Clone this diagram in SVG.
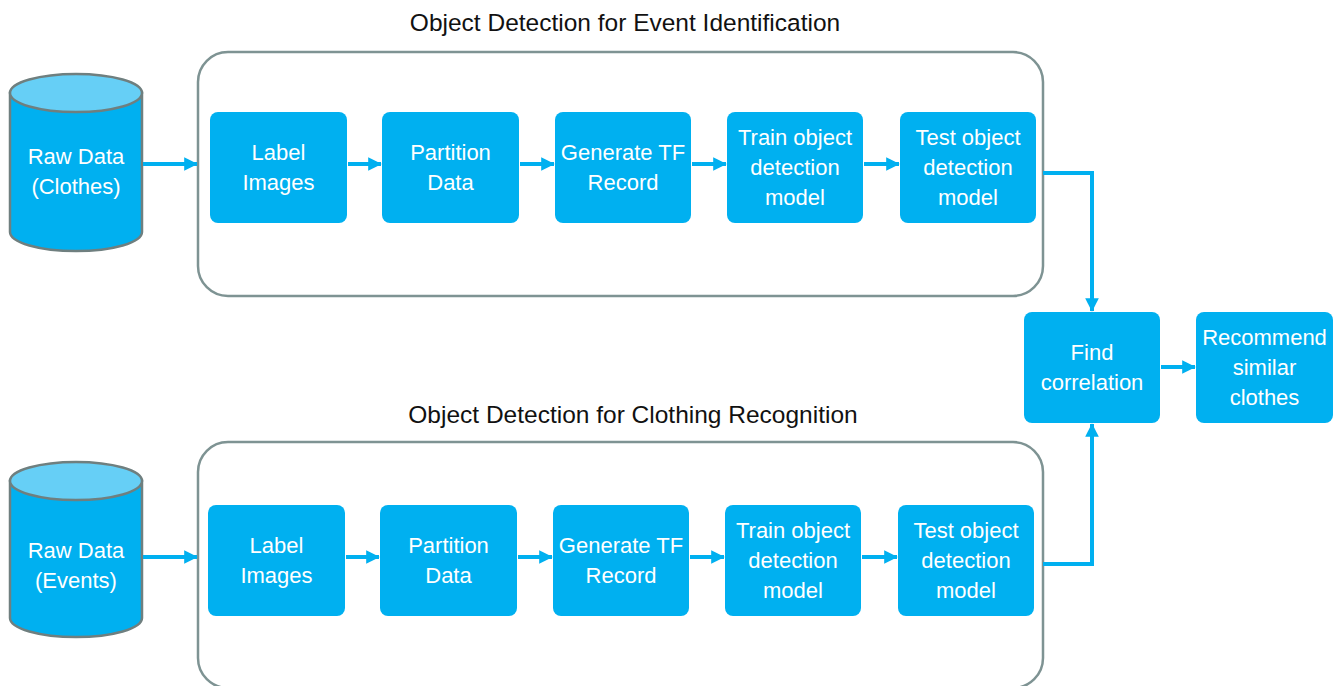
<svg xmlns="http://www.w3.org/2000/svg" width="1336" height="686" viewBox="0 0 1336 686">
<defs>
<style>
.box{fill:#00B0F0;}
.cont{fill:none;stroke:#7E9393;stroke-width:2.5;}
.cyl{fill:#00B0F0;stroke:#6F7F7F;stroke-width:2.5;}
.cyltop{fill:#66CFF6;stroke:#6F7F7F;stroke-width:2.5;}
.t{font-family:"Liberation Sans",Arial,sans-serif;font-size:22px;fill:#FFFFFF;text-anchor:middle;}
.title{font-family:"Liberation Sans",Arial,sans-serif;font-size:24.5px;fill:#111111;text-anchor:middle;}
.c{fill:none;stroke:#00B0F0;stroke-width:4;}
</style>
<marker id="ah" markerWidth="4" markerHeight="4" refX="3.2" refY="2" orient="auto" markerUnits="strokeWidth">
<path d="M0,0.3 L3.4,2 L0,3.7 Z" fill="#00B0F0"/>
</marker>
</defs>
<rect width="1336" height="686" fill="#FFFFFF"/>

<g id="title-top"><text class="title" x="625" y="31">Object Detection for Event Identification</text></g>
<g id="title-bottom"><text class="title" x="633" y="423">Object Detection for Clothing Recognition</text></g>

<g id="container-top"><rect class="cont" x="198" y="52" width="845" height="244" rx="30"/></g>
<g id="container-bottom"><rect class="cont" x="198" y="442" width="845" height="246" rx="30"/></g>

<g id="raw-clothes">
<path class="cyl" d="M10,93 L10,232 A66,19 0 0 0 142,232 L142,93 Z"/>
<ellipse class="cyltop" cx="76" cy="93" rx="66" ry="19"/>
<text class="t" x="76" y="164">Raw Data</text>
<text class="t" x="76" y="194">(Clothes)</text>
</g>
<g id="raw-events">
<path class="cyl" d="M10,481 L10,618 A66,19 0 0 0 142,618 L142,481 Z"/>
<ellipse class="cyltop" cx="76" cy="481" rx="66" ry="19"/>
<text class="t" x="76" y="558">Raw Data</text>
<text class="t" x="76" y="588">(Events)</text>
</g>

<g id="top-label"><rect class="box" x="210" y="112" width="137" height="111" rx="8"/>
<text class="t" x="278.5" y="160">Label</text><text class="t" x="278.5" y="190">Images</text></g>
<g id="top-partition"><rect class="box" x="382" y="112" width="137" height="111" rx="8"/>
<text class="t" x="450.5" y="160">Partition</text><text class="t" x="450.5" y="190">Data</text></g>
<g id="top-generate"><rect class="box" x="555" y="112" width="136" height="111" rx="8"/>
<text class="t" x="623" y="160">Generate TF</text><text class="t" x="623" y="190">Record</text></g>
<g id="top-train"><rect class="box" x="727" y="112" width="136" height="111" rx="8"/>
<text class="t" x="795" y="145">Train object</text><text class="t" x="795" y="175">detection</text><text class="t" x="795" y="205">model</text></g>
<g id="top-test"><rect class="box" x="900" y="112" width="136" height="111" rx="8"/>
<text class="t" x="968" y="145">Test object</text><text class="t" x="968" y="175">detection</text><text class="t" x="968" y="205">model</text></g>

<g id="bot-label"><rect class="box" x="208" y="505" width="137" height="111" rx="8"/>
<text class="t" x="276.5" y="553">Label</text><text class="t" x="276.5" y="583">Images</text></g>
<g id="bot-partition"><rect class="box" x="380" y="505" width="137" height="111" rx="8"/>
<text class="t" x="448.5" y="553">Partition</text><text class="t" x="448.5" y="583">Data</text></g>
<g id="bot-generate"><rect class="box" x="553" y="505" width="136" height="111" rx="8"/>
<text class="t" x="621" y="553">Generate TF</text><text class="t" x="621" y="583">Record</text></g>
<g id="bot-train"><rect class="box" x="725" y="505" width="136" height="111" rx="8"/>
<text class="t" x="793" y="538">Train object</text><text class="t" x="793" y="568">detection</text><text class="t" x="793" y="598">model</text></g>
<g id="bot-test"><rect class="box" x="898" y="505" width="136" height="111" rx="8"/>
<text class="t" x="966" y="538">Test object</text><text class="t" x="966" y="568">detection</text><text class="t" x="966" y="598">model</text></g>

<g id="find"><rect class="box" x="1024" y="312" width="136" height="111" rx="8"/>
<text class="t" x="1092" y="360">Find</text><text class="t" x="1092" y="390">correlation</text></g>
<g id="recommend"><rect class="box" x="1196" y="312" width="137" height="111" rx="8"/>
<text class="t" x="1264.5" y="345">Recommend</text><text class="t" x="1264.5" y="375">similar</text><text class="t" x="1264.5" y="405">clothes</text></g>

<g id="connectors">
<line class="c" x1="143" y1="164" x2="197" y2="164" marker-end="url(#ah)"/>
<line class="c" x1="348" y1="164" x2="381" y2="164" marker-end="url(#ah)"/>
<line class="c" x1="520" y1="164" x2="554" y2="164" marker-end="url(#ah)"/>
<line class="c" x1="692" y1="164" x2="726" y2="164" marker-end="url(#ah)"/>
<line class="c" x1="864" y1="164" x2="899" y2="164" marker-end="url(#ah)"/>
<line class="c" x1="143" y1="557" x2="197" y2="557" marker-end="url(#ah)"/>
<line class="c" x1="346" y1="557" x2="379" y2="557" marker-end="url(#ah)"/>
<line class="c" x1="518" y1="557" x2="552" y2="557" marker-end="url(#ah)"/>
<line class="c" x1="690" y1="557" x2="724" y2="557" marker-end="url(#ah)"/>
<line class="c" x1="862" y1="557" x2="897" y2="557" marker-end="url(#ah)"/>
<polyline class="c" points="1043,173 1092,173 1092,311" marker-end="url(#ah)"/>
<polyline class="c" points="1043,564 1092,564 1092,424" marker-end="url(#ah)"/>
<line class="c" x1="1161" y1="367" x2="1195" y2="367" marker-end="url(#ah)"/>
</g>
</svg>
